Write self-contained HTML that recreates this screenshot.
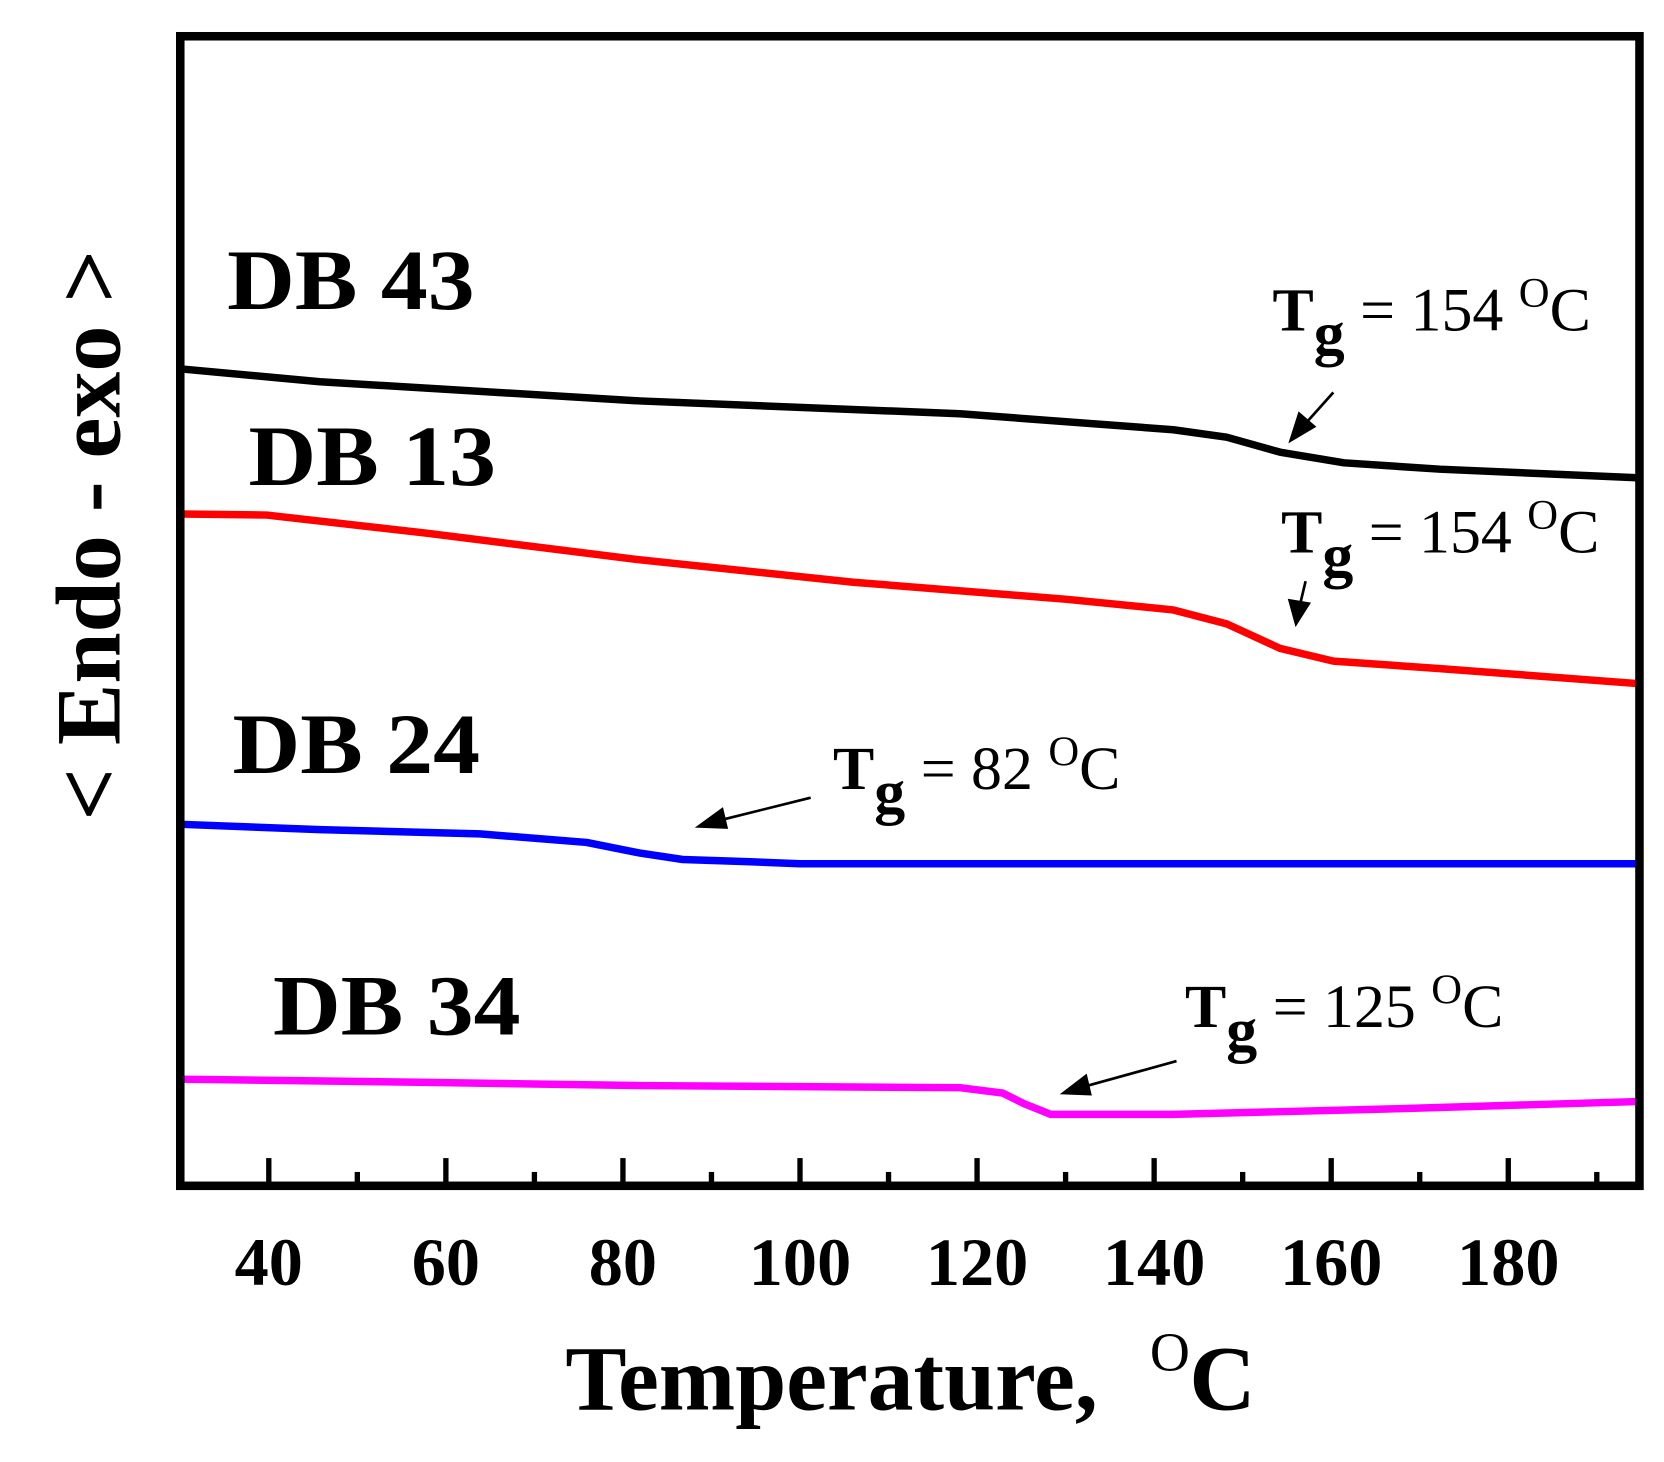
<!DOCTYPE html>
<html><head><style>html,body{margin:0;padding:0;background:#fff}svg{display:block}</style></head>
<body>
<svg width="1664" height="1462" viewBox="0 0 1560 1371" preserveAspectRatio="none" xmlns="http://www.w3.org/2000/svg" font-family="Liberation Serif, serif">
<g fill="none" stroke-width="7" stroke-linejoin="round">
<polyline stroke="#000" points="170,346 300,358 600,376 900,388 1100,403 1150,410 1200,424 1260,434 1350,440 1535,448"/>
<polyline stroke="#ff0000" points="170,482 250,483 400,500 600,525 800,546 1000,562 1100,572 1150,585 1200,608 1250,620 1350,627 1535,641"/>
<polyline stroke="#0000ff" points="170,773 300,778 450,782 550,790 600,800 640,806 700,808 750,810 1535,810"/>
<polyline stroke="#ff00ff" points="170,1012 400,1015 600,1018 900,1020 940,1025 960,1035 985,1045 1100,1045 1300,1040 1535,1033"/>
</g>
<rect x="169" y="34" width="1368" height="1078" fill="none" stroke="#000" stroke-width="8"/>
<g stroke="#000" stroke-width="5">
<line x1="252" y1="1086" x2="252" y2="1110"/><line x1="418" y1="1086" x2="418" y2="1110"/><line x1="584" y1="1086" x2="584" y2="1110"/><line x1="750" y1="1086" x2="750" y2="1110"/><line x1="916" y1="1086" x2="916" y2="1110"/><line x1="1082" y1="1086" x2="1082" y2="1110"/><line x1="1248" y1="1086" x2="1248" y2="1110"/><line x1="1414" y1="1086" x2="1414" y2="1110"/>
<line x1="335" y1="1099" x2="335" y2="1110"/><line x1="501" y1="1099" x2="501" y2="1110"/><line x1="667" y1="1099" x2="667" y2="1110"/><line x1="833" y1="1099" x2="833" y2="1110"/><line x1="999" y1="1099" x2="999" y2="1110"/><line x1="1165" y1="1099" x2="1165" y2="1110"/><line x1="1331" y1="1099" x2="1331" y2="1110"/><line x1="1497" y1="1099" x2="1497" y2="1110"/>
</g>
<g font-weight="bold" font-size="64" text-anchor="middle" fill="#000">
<text x="252" y="1205">40</text><text x="418" y="1205">60</text><text x="584" y="1205">80</text><text x="750" y="1205">100</text><text x="916" y="1205">120</text><text x="1082" y="1205">140</text><text x="1248" y="1205">160</text><text x="1414" y="1205">180</text>
</g>
<text x="530" y="1322" font-weight="bold" font-size="86" fill="#000">Temperature,</text>
<text x="1078" y="1285" font-size="52" fill="#000">O</text>
<text x="1115" y="1322" font-weight="bold" font-size="86" fill="#000">C</text>
<text transform="translate(112,502) rotate(-90)" text-anchor="middle" font-weight="bold" font-size="86" textLength="535" lengthAdjust="spacingAndGlyphs" fill="#000">&lt; Endo - exo &gt;</text>
<g font-weight="bold" font-size="80" fill="#000" lengthAdjust="spacingAndGlyphs">
<text x="213" y="290" textLength="232" lengthAdjust="spacingAndGlyphs">DB 43</text><text x="233" y="455" textLength="232" lengthAdjust="spacingAndGlyphs">DB 13</text><text x="218" y="725" textLength="232" lengthAdjust="spacingAndGlyphs">DB 24</text><text x="256" y="970" textLength="232" lengthAdjust="spacingAndGlyphs">DB 34</text>
</g>
<g font-size="58" fill="#000">
<text x="1193" y="310"><tspan font-weight="bold">T</tspan><tspan font-weight="bold" dy="22">g</tspan><tspan dy="-22"> = 154 </tspan><tspan font-size="40" dy="-22">O</tspan><tspan dy="22">C</tspan></text>
<text x="1201" y="518"><tspan font-weight="bold">T</tspan><tspan font-weight="bold" dy="22">g</tspan><tspan dy="-22"> = 154 </tspan><tspan font-size="40" dy="-22">O</tspan><tspan dy="22">C</tspan></text>
<text x="781" y="740"><tspan font-weight="bold">T</tspan><tspan font-weight="bold" dy="22">g</tspan><tspan dy="-22"> = 82 </tspan><tspan font-size="40" dy="-22">O</tspan><tspan dy="22">C</tspan></text>
<text x="1111" y="963"><tspan font-weight="bold">T</tspan><tspan font-weight="bold" dy="22">g</tspan><tspan dy="-22"> = 125 </tspan><tspan font-size="40" dy="-22">O</tspan><tspan dy="22">C</tspan></text>
</g>
<g stroke="#000" stroke-width="2.5" fill="#000">
<line x1="1250" y1="368" x2="1225" y2="396"/><polygon points="1210,413 1218,388 1232,400"/>
<line x1="1224" y1="545" x2="1219" y2="566"/><polygon points="1215,585 1209,563 1227,566"/>
<line x1="760" y1="748" x2="680" y2="768"/><polygon points="655,775 677,759 681,776"/>
<line x1="1103" y1="995" x2="1020" y2="1018"/><polygon points="997,1025 1018,1009 1022,1026"/>
</g>
</svg>
</body></html>
